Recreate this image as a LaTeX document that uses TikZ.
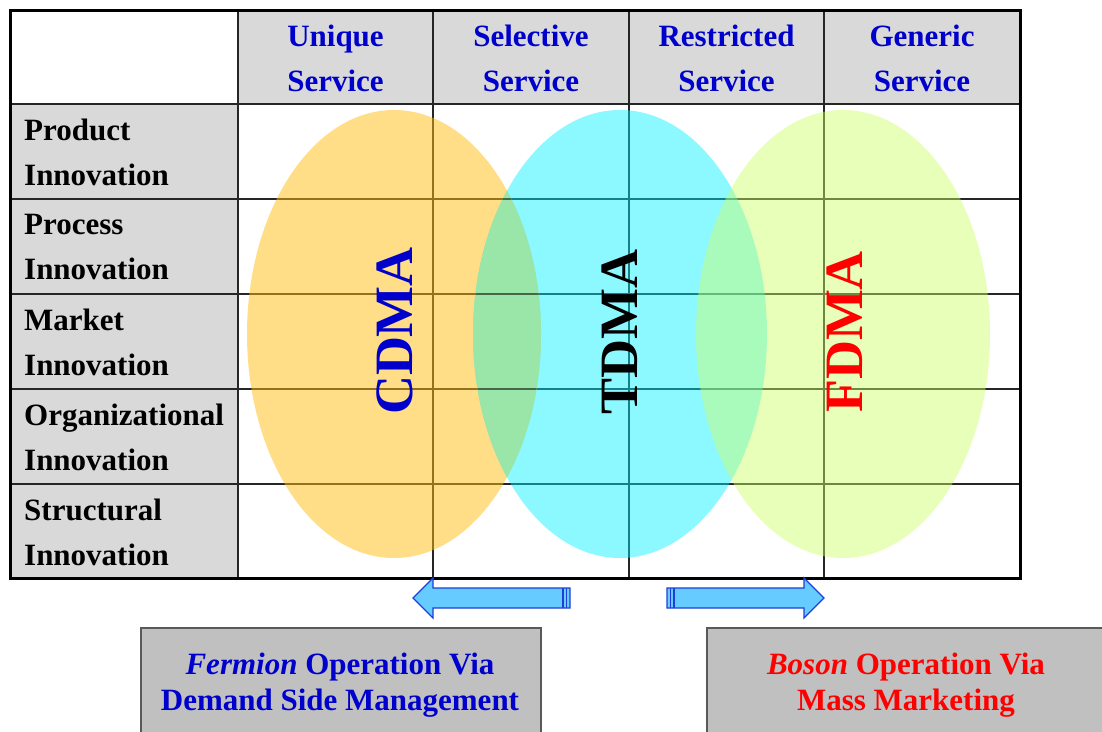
\documentclass[tikz,border=0pt]{standalone}
\usepackage{fontspec}
\setmainfont{Liberation Serif}
\usetikzlibrary{shapes.geometric}
\definecolor{hdrgray}{HTML}{D9D9D9}
\definecolor{boxgray}{HTML}{C0C0C0}
\definecolor{hdrblue}{HTML}{0000CC}
\definecolor{arrfill}{HTML}{66CCFF}
\definecolor{arrline}{HTML}{1F3FD8}
\definecolor{orangeE}{HTML}{FFBE10}
\definecolor{cyanE}{HTML}{00F0FF}
\definecolor{greenE}{HTML}{CCFF66}
\definecolor{olapCT}{HTML}{9AE6A8}
\begin{document}
\begin{tikzpicture}[x=1pt,y=-1pt,
  cellfont/.style={font=\fontsize{31}{45}\selectfont\bfseries},
  hdr/.style={cellfont, text=hdrblue, align=center},
  rowlbl/.style={cellfont, text=black, align=left, anchor=west, inner sep=0pt},
  grid/.style={line width=1.4pt, draw=black!85},
  blob/.style={ellipse, minimum width=294pt, minimum height=448pt, inner sep=0pt, fill opacity=0.5},
  bigword/.style={rotate=90, font=\fontsize{54}{54}\selectfont\bfseries, inner sep=0pt},
  fatarrow/.style={fill=arrfill, draw=arrline, line width=1.3pt, line join=miter},
  notebox/.style={draw=black!65, fill=boxgray, line width=1.5pt, anchor=north west, inner sep=0pt},
  notetext/.style={font=\fontsize{31}{36}\selectfont\bfseries, align=center}
]
\useasboundingbox (0,0) rectangle (1102,731);
\fill[white] (0,0) rectangle (1102,731);
% cell fills
\fill[hdrgray] (238,10) rectangle (1020,104);
\fill[hdrgray] (10,104) rectangle (238,578);
% grid lines
\foreach \x in {238,433,629,824} \draw[grid] (\x,10) -- (\x,578);
\foreach \y in {104,199,294,389,484} \draw[grid] (10,\y) -- (1020,\y);
\draw[line width=3pt] (10,10) rectangle (1020,578);
% headers
\node[hdr] (h1) at (335.5,58) {Unique\\Service};
\node[hdr] (h2) at (531,58) {Selective\\Service};
\node[hdr] (h3) at (726.5,58) {Restricted\\Service};
\node[hdr] (h4) at (922,58) {Generic\\Service};
% row labels
\node[rowlbl] (r1) at (24,152) {Product\\Innovation};
\node[rowlbl] (r2) at (24,247) {Process\\Innovation};
\node[rowlbl] (r3) at (24,342) {Market\\Innovation};
\node[rowlbl] (r4) at (24,437) {Organizational\\Innovation};
\node[rowlbl] (r5) at (24,532) {Structural\\Innovation};
% ellipses
\node[blob, fill=orangeE] (eC) at (394,334) {};
\node[blob, fill=cyanE, fill opacity=0.45] (eT) at (620,334) {};
% overlap of CDMA and TDMA regions
\begin{scope}
  \clip (394,334) ellipse [x radius=147, y radius=224];
  \fill[olapCT] (620,334) ellipse [x radius=147, y radius=224];
  \clip (620,334) ellipse [x radius=147, y radius=224];
  \draw[line width=1.4pt, draw=black!55!olapCT] (433,10) -- (433,578);
  \foreach \y in {104,199,294,389,484} \draw[line width=1.4pt, draw=black!55!olapCT] (238,\y) -- (1020,\y);
\end{scope}
\node[blob, fill=greenE, fill opacity=0.45] (eF) at (843,334) {};
\node[bigword, text=hdrblue] (wC) at (395,331) {CDMA};
\node[bigword, text=black] (wT) at (620,332) {TDMA};
\node[bigword, text=red] (wF) at (845,332) {FDMA};
% arrows
\coordinate (la) at (413,598);
\coordinate (ra) at (824,598);
\draw[fatarrow] (la) -- (433,578) -- (433,588) -- (570,588) -- (570,608) -- (433,608) -- (433,618) -- cycle;
\draw[arrline, line width=1.2pt] (563,588) -- (563,608) (566.5,588) -- (566.5,608);
\draw[fatarrow] (ra) -- (804,578) -- (804,588) -- (667,588) -- (667,608) -- (804,608) -- (804,618) -- cycle;
\draw[arrline, line width=1.2pt] (674,588) -- (674,608) (670.5,588) -- (670.5,608);
% bottom boxes
\node[notebox, minimum width=400pt, minimum height=130pt] (bl) at (140,627) {};
\node[notebox, minimum width=400pt, minimum height=130pt] (br) at (706,627) {};
\node[notetext, text=hdrblue] (tl) at (340,685) {\textit{Fermion} Operation Via\\Demand Side Management};
\node[notetext, text=red] (tr) at (906,685) {\textit{Boson} Operation Via\\Mass Marketing};
\end{tikzpicture}
\end{document}
